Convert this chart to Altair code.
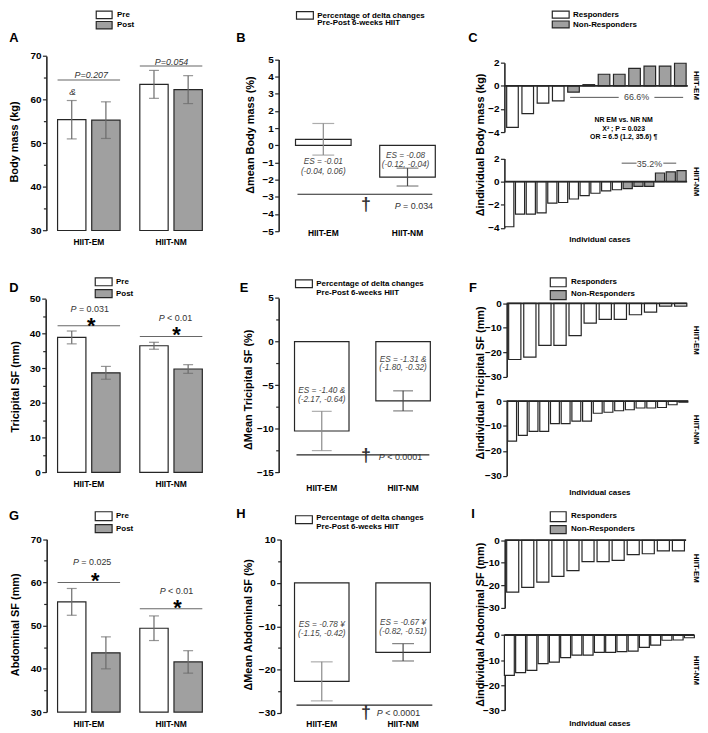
import altair as alt
import pandas as pd

M = 8            # page margin
W, H = 698, 724  # whole drawing area
FONT = "Liberation Sans"
GRAY = "#a0a0a0"
EDGE = "#262626"
ERRC = "#6a6a6a"
ESC = "#444444"

groups = ["HIIT-EM", "HIIT-NM"]
conds = ["Pre", "Post"]

# Panels A, D, G: mean (SE) pre/post per group (EM-Pre, EM-Post, NM-Pre, NM-Post)
body_mass_mean = [55.4, 55.3, 63.5, 62.3]
body_mass_err = [4.4, 4.2, 3.2, 3.2]
tricipital_mean = [38.9, 28.7, 36.5, 29.8]
tricipital_err = [1.85, 1.85, 1.0, 1.25]
abdominal_mean = [55.5, 43.7, 49.4, 41.6]
abdominal_err = [3.1, 3.7, 2.85, 2.6]

# Panels B, E, H: mean percentage delta (EM, NM)
d_body_mass = [0.35, -1.85]
d_body_mass_err = [0.92, 0.52]
d_tricipital = [-10.25, -6.8]
d_tricipital_err = [2.25, 1.15]
d_abdominal = [-22.7, -16.0]
d_abdominal_err = [4.5, 2.0]

# Panels C, F, I: individual deltas, flag 1 = non-responder
ind_bm_em = [-3.6, -2.4, -1.5, -1.3, -0.55, 0.1, 1.0, 1.0, 1.5, 1.7, 1.7, 1.95]
ind_bm_em_nr = [0, 0, 0, 0, 1, 1, 1, 1, 1, 1, 1, 1]
ind_bm_nm = [-3.9, -2.8, -2.8, -2.7, -1.85, -1.8, -1.5, -1.2, -1.0, -0.8, -0.7, -0.6, -0.4, -0.4, 0.75, 0.85, 0.95]
ind_bm_nm_nr = [0, 0, 0, 0, 0, 0, 0, 0, 0, 0, 0, 1, 1, 1, 1, 1, 1]
ind_tri_em = [-23, -22, -17.2, -17.2, -13.2, -8.1, -6.6, -6.6, -4.7, -3.6, -1.2, -1.2]
ind_tri_em_nr = [0, 0, 0, 0, 0, 0, 0, 0, 0, 0, 0, 0]
ind_tri_nm = [-16.1, -13.8, -12.2, -12.2, -9.1, -9.1, -8.1, -8.1, -4.9, -4.5, -3.9, -3.5, -2.8, -2.8, -2.6, -1.5, -0.5]
ind_tri_nm_nr = [0, 0, 0, 0, 0, 0, 0, 0, 0, 0, 0, 0, 0, 0, 0, 0, 1]
ind_abd_em = [-23, -20.9, -18.6, -16, -13.5, -9.5, -9.5, -8.9, -6.4, -6.0, -4.7, -4.7]
ind_abd_em_nr = [0, 0, 0, 0, 0, 0, 0, 0, 0, 0, 0, 0]
ind_abd_nm = [-16.1, -15, -14.1, -11.4, -10.8, -9.0, -8.0, -8.0, -6.9, -6.9, -6.6, -6.4, -4.9, -4.0, -2.1, -2.0, -1.1]
ind_abd_nm_nr = [0, 0, 0, 0, 0, 0, 0, 0, 0, 0, 0, 0, 0, 0, 0, 0, 0]


def px(v):
    return v - M


def y_axis(axis_x, values, labels=True, size=4):
    return alt.Axis(orient="left", offset=-px(axis_x), values=values, title=None, grid=False,
                    labels=labels, labelFont=FONT, labelFontSize=10, labelFontWeight="bold",
                    labelColor="black", labelPadding=1.5, tickColor=EDGE, tickSize=size,
                    tickWidth=1.2, domain=labels, domainColor=EDGE, domainWidth=1.6)


def x_axis(label_y):
    return alt.Axis(orient="bottom", offset=px(label_y) - H, title=None, domain=False,
                    ticks=False, tickSize=0, labelPadding=0, labelBaseline="middle",
                    labelAngle=0, labelFont=FONT, labelFontSize=8.5, labelFontWeight="bold",
                    labelColor="black")


def y_scale(dom, y_lo, y_hi):
    return alt.Scale(domain=dom, range=[px(y_lo), px(y_hi)], nice=False, zero=False)


def band(dom, x0, x1, pad):
    return alt.Scale(domain=dom, range=[px(x0), px(x1)], paddingInner=pad, paddingOuter=0)


def bandwidth(n, x0, x1, pad):
    step = (x1 - x0) / (n - pad)
    return step * (1 - pad)


def grouped_panel(means, errs, dom, y_px, ticks, minor, axis_x, x_px, label_y, p_lines):
    df = pd.DataFrame({"group": [g for g in groups for _ in conds],
                       "cond": conds * len(groups), "mean": means, "err": errs})
    df["lo"] = df["mean"] - df["err"]
    df["hi"] = df["mean"] + df["err"]
    df["base"] = dom[0]
    df["fill"] = ["white" if c == "Pre" else GRAY for c in df["cond"]]
    xs = band(groups, x_px[0], x_px[1], 0.24)
    bw = bandwidth(2, x_px[0], x_px[1], 0.24)
    xos = alt.Scale(domain=conds, range=[0, bw], paddingInner=0.17, paddingOuter=0)
    ys = y_scale(dom, *y_px)
    xo = alt.XOffset("cond:N", scale=xos, sort=conds)
    xg = alt.X("group:N", scale=xs, sort=groups, axis=None)
    base = alt.Chart(df)
    out = [
        base.mark_point(opacity=0).encode(
            y=alt.Y("mean:Q", scale=ys, axis=y_axis(axis_x, minor, labels=False, size=3))),
        base.mark_bar(stroke=EDGE, strokeWidth=1.2).encode(
            x=alt.X("group:N", scale=xs, sort=groups, axis=x_axis(label_y)), xOffset=xo,
            y=alt.Y("mean:Q", scale=ys, axis=y_axis(axis_x, ticks)), y2="base:Q",
            fill=alt.Fill("fill:N", scale=None)),
        base.mark_rule(color=ERRC, strokeWidth=1.2).encode(
            x=xg, xOffset=xo, y=alt.Y("lo:Q", scale=ys, axis=None), y2="hi:Q"),
        base.mark_tick(color=ERRC, size=10, thickness=1.2).encode(
            x=xg, xOffset=xo, y=alt.Y("lo:Q", scale=ys, axis=None)),
        base.mark_tick(color=ERRC, size=10, thickness=1.2).encode(
            x=xg, xOffset=xo, y=alt.Y("hi:Q", scale=ys, axis=None)),
    ]
    pdf = pd.DataFrame({"group": groups, "y": p_lines})
    out.append(alt.Chart(pdf).mark_tick(color=EDGE, size=bw, thickness=1).encode(
        x=xg, y=alt.Y("y:Q", scale=ys, axis=None)))
    return out


def delta_panel(means, errs, dom, y_px, ticks, minor, axis_x, x_px, pad, label_y, cap,
                sig_y, sig_x):
    df = pd.DataFrame({"group": groups, "mean": means, "err": errs})
    df["lo"] = df["mean"] - df["err"]
    df["hi"] = df["mean"] + df["err"]
    df["base"] = 0
    df["ec"] = ["#8a8a8a", "#4a4a4a"]
    xs = band(groups, x_px[0], x_px[1], pad)
    ys = y_scale(dom, *y_px)
    xg = alt.X("group:N", scale=xs, sort=groups, axis=None)
    ec = alt.Color("ec:N", scale=None)
    base = alt.Chart(df)
    out = []
    if minor:
        out.append(base.mark_point(opacity=0).encode(
            y=alt.Y("mean:Q", scale=ys, axis=y_axis(axis_x, minor, labels=False, size=3))))
    out += [
        base.mark_bar(stroke=EDGE, strokeWidth=1.2, fill="white").encode(
            x=alt.X("group:N", scale=xs, sort=groups, axis=x_axis(label_y)),
            y=alt.Y("mean:Q", scale=ys, axis=y_axis(axis_x, ticks)), y2="base:Q"),
        base.mark_rule(strokeWidth=1.2).encode(
            x=xg, y=alt.Y("lo:Q", scale=ys, axis=None), y2="hi:Q", color=ec),
        base.mark_tick(size=cap, thickness=1.2).encode(
            x=xg, y=alt.Y("lo:Q", scale=ys, axis=None), color=ec),
        base.mark_tick(size=cap, thickness=1.2).encode(
            x=xg, y=alt.Y("hi:Q", scale=ys, axis=None), color=ec),
        alt.Chart(pd.DataFrame({"y": [sig_y]})).mark_rule(color=EDGE, strokeWidth=1.2).encode(
            y=alt.Y("y:Q", scale=ys, axis=None), x=alt.value(px(sig_x[0])),
            x2=alt.value(px(sig_x[1]))),
    ]
    return out


def indiv_panel(values, nr, dom, y_px, ticks, axis_x, x_px, pad, line_end, extra=()):
    n = len(values)
    cases = list(range(1, n + 1))
    df = pd.DataFrame({"case": cases, "v": values, "base": 0,
                       "fill": ["white" if f == 0 else GRAY for f in nr]})
    xs = band(cases, x_px[0], x_px[1], pad)
    ys = y_scale(dom, *y_px)
    out = [
        alt.Chart(df).mark_bar(stroke=EDGE, strokeWidth=1.2).encode(
            x=alt.X("case:O", scale=xs, axis=None),
            y=alt.Y("v:Q", scale=ys, axis=y_axis(axis_x, ticks)), y2="base:Q",
            fill=alt.Fill("fill:N", scale=None)),
        alt.Chart(pd.DataFrame({"z": [0]})).mark_rule(color=EDGE, strokeWidth=1.8).encode(
            y=alt.Y("z:Q", scale=ys, axis=None), x=alt.value(px(axis_x)),
            x2=alt.value(px(line_end))),
    ]
    for (yv, x0, x1) in extra:
        out.append(alt.Chart(pd.DataFrame({"z": [yv]})).mark_rule(color="#555555", strokeWidth=1).encode(
            y=alt.Y("z:Q", scale=ys, axis=None), x=alt.value(px(x0)), x2=alt.value(px(x1))))
    return out


def text_layer(items, size, weight="normal", style="normal", angle=0, align="center",
               color="black", dy=0):
    df = pd.DataFrame({"x": [px(i[0]) for i in items], "y": [px(i[1]) for i in items],
                       "t": [i[2] for i in items]})
    return alt.Chart(df).mark_text(font=FONT, fontSize=size, fontWeight=weight, fontStyle=style,
                                   angle=angle, align=align, baseline="middle", color=color,
                                   dy=dy).encode(
        x=alt.X("x:Q", scale=None, axis=None), y=alt.Y("y:Q", scale=None, axis=None),
        text="t:N")


def boxes(items):
    df = pd.DataFrame({"x0": [px(b[0]) for b in items], "y0": [px(b[1]) for b in items],
                       "x1": [px(b[2]) for b in items], "y1": [px(b[3]) for b in items],
                       "f": [b[4] for b in items]})
    return alt.Chart(df).mark_rect(stroke=EDGE, strokeWidth=1.2).encode(
        x=alt.X("x0:Q", scale=None, axis=None), x2="x1:Q",
        y=alt.Y("y0:Q", scale=None, axis=None), y2="y1:Q",
        fill=alt.Fill("f:N", scale=None))


layers = []
# ---- Row 1 ----
layers += grouped_panel(body_mass_mean, body_mass_err, [30, 70], (229.3, 53.3),
                        [30, 40, 50, 60, 70], [35, 45, 55, 65], 46.7, (58, 204), 240,
                        [64.5, 67.7])
layers += delta_panel(d_body_mass, d_body_mass_err, [-5, 5], (230, 56.7),
                      list(range(-5, 6)), None, 281, (298, 439), 0.34, 231, 22,
                      -2.85, (300, 436))
layers += indiv_panel(ind_bm_em, ind_bm_em_nr, [-4, 2], (130, 60), [-4, -2, 0, 2], 508.7,
                      (511, 692), 0.24, 693.7, extra=[(-1.0, 575, 624), (-1.0, 660, 689)])
layers += indiv_panel(ind_bm_nm, ind_bm_nm_nr, [-4, 2], (226.7, 156.7), [-4, -2, 0, 2], 508.7,
                      (509, 692), 0.15, 693, extra=[(1.6, 627, 642), (1.6, 669, 682)])
# ---- Row 2 ----
layers += grouped_panel(tricipital_mean, tricipital_err, [0, 50], (473.3, 298.3),
                        [0, 10, 20, 30, 40, 50], [5, 15, 25, 35, 45], 46, (58, 204), 485,
                        [42.3, 39.2])
layers += delta_panel(d_tricipital, d_tricipital_err, [-15, 5], (473.3, 297.3),
                      [-15, -10, -5, 0, 5], [-12.5, -7.5, -2.5, 2.5], 281, (297, 434), 0.33,
                      489, 20, -13.0, (299, 433))
layers += indiv_panel(ind_tri_em, ind_tri_em_nr, [-30, 0], (376.7, 302.7), [-30, -20, -10, 0],
                      511, (513, 692.7), 0.19, 692.7)
layers += indiv_panel(ind_tri_nm, ind_tri_nm_nr, [-30, 0], (476.7, 401.3), [-30, -20, -10, 0],
                      511, (512, 693.7), 0.17, 694)
# ---- Row 3 ----
layers += grouped_panel(abdominal_mean, abdominal_err, [30, 70], (715, 540.7),
                        [30, 40, 50, 60, 70], [35, 45, 55, 65], 47, (58, 204), 727,
                        [60.0, 53.9])
layers += delta_panel(d_abdominal, d_abdominal_err, [-30, 10], (716, 541),
                      [-30, -20, -10, 0, 10], [-25, -15, -5, 5], 283, (297, 434), 0.33,
                      727, 22, -28.2, (299, 436))
layers += indiv_panel(ind_abd_em, ind_abd_em_nr, [-30, 0], (610, 541.7), [-30, -20, -10, 0],
                      509, (511, 690.3), 0.2, 692)
layers += indiv_panel(ind_abd_nm, ind_abd_nm_nr, [-30, 0], (713.3, 637.3), [-30, -20, -10, 0],
                      509, (508.7, 700.3), 0.12, 700)

# ---- legends ----
layers.append(boxes([
    (97, 8, 113, 15.5, "white"), (97, 18.5, 113, 26, GRAY),
    (96, 277, 113, 285, "white"), (96, 289, 113, 297, GRAY),
    (96, 513, 113, 522, "white"), (96, 526, 113, 534, GRAY),
    (299, 8.5, 316, 16, "white"), (298, 279, 315, 287, "white"), (298, 517, 315, 525, "white"),
    (557, 8, 574, 15, "white"), (557, 18, 574, 25, GRAY),
    (555, 277, 571, 286, "white"), (555, 290, 571, 299, GRAY),
    (555, 513, 571, 523, "white"), (555, 527, 571, 535, GRAY),
]))
layers.append(text_layer([
    (118, 12, "Pre"), (118, 22.5, "Post"), (117, 281, "Pre"), (117, 293, "Post"),
    (117, 517, "Pre"), (117, 530, "Post"),
    (320, 12.5, "Percentage of delta changes"), (320, 20.5, "Pre-Post 6-weeks HIIT"),
    (319, 283, "Percentage of delta changes"), (319, 292, "Pre-Post 6-weeks HIIT"),
    (319, 519, "Percentage of delta changes"), (319, 528, "Pre-Post 6-weeks HIIT"),
    (578, 12, "Responders"), (578, 22, "Non-Responders"),
    (576, 281, "Responders"), (576, 293, "Non-Responders"),
    (576, 517, "Responders"), (576, 530, "Non-Responders"),
], 8, weight="bold", align="left"))

# ---- panel letters ----
layers.append(text_layer([
    (14, 35, "A"), (243, 35, "B"), (477, 35, "C"), (14, 287, "D"), (246, 287, "E"),
    (477, 287, "F"), (14, 517, "G"), (243, 515, "H"), (477, 515, "I"),
], 13, weight="bold"))

# ---- y titles ----
layers.append(text_layer([
    (15, 140, "Body mass (kg)"), (253, 133, "Δmean Body mass (%)"),
    (485, 143, "Δindividual Body mass (kg)"), (16, 387, "Tricipital SF (mm)"),
    (251, 390, "ΔMean Tricipital SF (%)"), (485, 383, "Δindividual Tricipital SF (mm)"),
    (16, 627, "Abdominal SF (mm)"), (251, 627, "ΔMean Abdominal SF (%)"),
    (485, 627, "Δindividual Abdominal SF (mm)"),
], 11, weight="bold", angle=270))

# ---- P values ----
layers.append(text_layer([(92, 72, "P=0.207"), (173, 59, "P=0.054")], 9, style="italic",
                         color="#333333"))
layers.append(text_layer([(73, 90, "&")], 10, style="italic", color="#333333"))
layers.append(text_layer([
    (71, 309, "P"), (160, 318, "P"), (73.5, 564, "P"), (161, 593, "P"),
    (398, 205, "P"), (382, 458, "P"), (380, 716, "P"),
], 9, style="italic", align="left", color="#333333"))
layers.append(text_layer([
    (79.5, 309, "= 0.031"), (168.5, 318, "< 0.01"), (82, 564, "= 0.025"),
    (169.5, 593, "< 0.01"), (406.5, 205, "= 0.034"), (390.5, 458, "< 0.0001"),
    (388.5, 716, "< 0.0001"),
], 9, align="left", color="#333333"))
layers.append(text_layer([(92, 321, "*"), (178, 330, "*"), (96, 578, "*"), (179, 605, "*")],
                         22, weight="bold", dy=5))
layers.append(text_layer([(369, 204, "†"), (369, 457, "†"), (369, 716, "†")], 18,
                         weight="bold", color="#333333"))

# ---- effect sizes ----
layers.append(text_layer([
    (326, 160, "ES = -0.01"), (326, 170, "(-0.04, 0.06)"),
    (409, 154.5, "ES = -0.08"), (409, 163.5, "(-0.12, -0.04)"),
    (324.5, 391, "ES = -1.40  &"), (324.5, 400, "(-2.17, -0.64)"),
    (406.5, 359.5, "ES = -1.31 &"), (406.5, 368.5, "(-1.80, -0.32)"),
    (324.5, 627, "ES = -0.78 ¥"), (324.5, 636, "(-1.15, -0.42)"),
    (406.5, 625, "ES = -0.67 ¥"), (406.5, 634, "(-0.82, -0.51)"),
], 8.3, style="italic", color=ESC))

# ---- panel C/F/I annotations ----
layers.append(text_layer([
    (629, 118, "NR EM vs. NR NM"), (629, 127, "X² ; P = 0.023"),
    (629, 135, "OR = 6.5 (1.2, 35.6) ¶"),
], 7, weight="bold"))
layers.append(text_layer([(642, 95, "66.6%"), (655, 162, "35.2%")], 9, color=ESC))
layers.append(text_layer([
    (702, 83, "HIIT-EM"), (702, 180, "HIIT-NM"), (702, 340, "HIIT-EM"),
    (702, 430, "HIIT-NM"), (702, 570, "HIIT-EM"), (702, 673, "HIIT-NM"),
], 8, weight="bold", angle=90))
layers.append(text_layer([(605, 239, "Individual cases"), (605, 494, "Individual cases"),
                          (605, 727, "Individual cases")], 8, weight="bold"))

chart = alt.layer(*layers).resolve_scale(
    x="independent", y="independent", xOffset="independent"
).properties(
    width=W, height=H, padding=0, background="white",
    autosize=alt.AutoSizeParams(type="none"),
).configure_view(stroke=None)

chart.save("out.html", embed_options={"renderer": "svg", "actions": False})
